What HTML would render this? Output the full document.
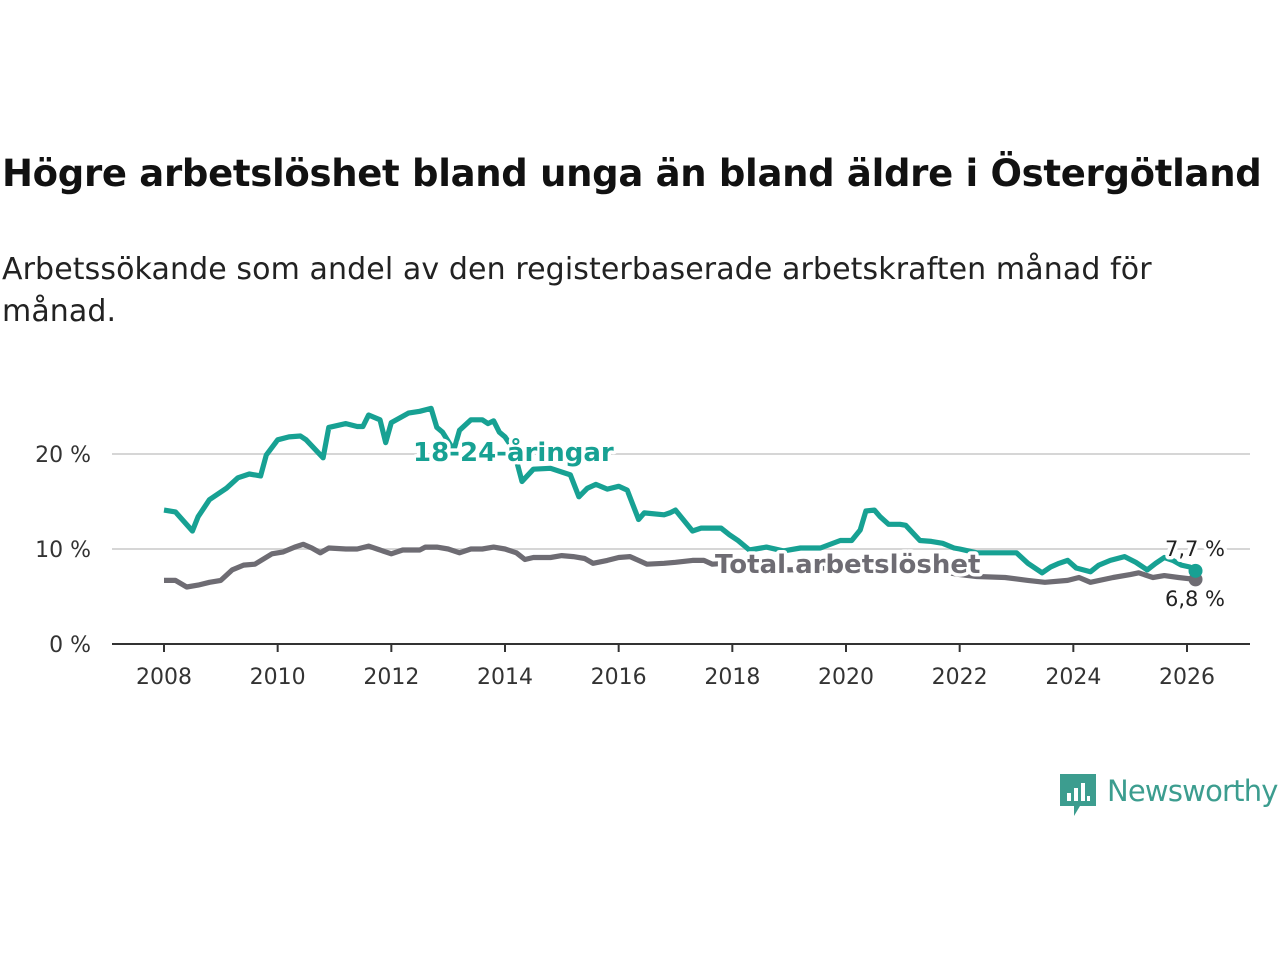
<!DOCTYPE html>
<html><head><meta charset="utf-8"><style>
body{margin:0;background:#fff;font-family:"Liberation Sans","DejaVu Sans",sans-serif;}
#wrap{position:relative;width:1280px;height:960px;overflow:hidden;}
h1{position:absolute;left:2px;top:152px;margin:0;font-size:37px;font-weight:bold;color:#111;font-family:"DejaVu Sans",sans-serif;letter-spacing:-0.3px;}
.sub{position:absolute;left:2px;top:249px;margin:0;font-size:30px;color:#222;line-height:42px;width:1270px;font-family:"DejaVu Sans",sans-serif;letter-spacing:0.1px}
svg text{font-family:"DejaVu Sans",sans-serif;}
</style></head><body><div id="wrap">
<h1>Högre arbetslöshet bland unga än bland äldre i Östergötland</h1>
<p class="sub">Arbetssökande som andel av den registerbaserade arbetskraften månad för<br>månad.</p>
<svg id="chart" width="1280" height="960" style="position:absolute;left:0;top:0"></svg>
<div style="position:absolute;left:1060px;top:774px;">
<svg width="36" height="44"><path d="M0 0H36V32H20L14 42V32H0Z" fill="#3c9d8f"/><rect x="7" y="19" width="4" height="8" fill="#fff"/><rect x="14" y="14" width="4" height="13" fill="#fff"/><rect x="21" y="9" width="4" height="18" fill="#fff"/><rect x="27" y="22" width="3" height="5" fill="#fff"/></svg>
<span style="position:absolute;left:47px;top:0;font-size:29px;color:#3c9d8f;font-family:'DejaVu Sans',sans-serif;letter-spacing:-0.8px">Newsworthy</span></div>
</div>
<script>
const youthT=[2008.0,2008.2,2008.5,2008.6,2008.8,2009.1,2009.3,2009.5,2009.7,2009.8,2010.0,2010.2,2010.4,2010.5,2010.8,2010.9,2011.2,2011.4,2011.5,2011.6,2011.8,2011.9,2012.0,2012.3,2012.5,2012.7,2012.8,2012.9,2013.1,2013.2,2013.4,2013.6,2013.7,2013.8,2013.9,2014.0,2014.15,2014.3,2014.5,2014.8,2015.15,2015.3,2015.45,2015.6,2015.8,2016.0,2016.15,2016.35,2016.45,2016.8,2016.9,2017.0,2017.3,2017.45,2017.8,2017.95,2018.1,2018.3,2018.6,2018.9,2019.2,2019.55,2019.9,2020.1,2020.25,2020.35,2020.5,2020.6,2020.75,2020.95,2021.05,2021.3,2021.5,2021.7,2021.9,2022.0,2022.3,2022.6,2023.0,2023.2,2023.45,2023.6,2023.75,2023.9,2024.05,2024.3,2024.45,2024.65,2024.9,2025.1,2025.3,2025.45,2025.6,2025.75,2025.9,2026.05,2026.15];
const youthV=[14.1,13.9,11.9,13.4,15.2,16.4,17.5,17.9,17.7,19.9,21.5,21.8,21.9,21.5,19.6,22.8,23.2,22.9,22.9,24.1,23.6,21.2,23.3,24.3,24.5,24.8,22.8,22.3,20.4,22.5,23.6,23.6,23.2,23.5,22.3,21.8,20.5,17.1,18.4,18.5,17.8,15.5,16.4,16.8,16.3,16.6,16.2,13.1,13.8,13.6,13.8,14.1,11.9,12.2,12.2,11.5,10.9,9.9,10.2,9.8,10.1,10.1,10.9,10.9,12.0,14.0,14.1,13.4,12.6,12.6,12.5,10.9,10.8,10.6,10.1,10.0,9.6,9.6,9.6,8.5,7.5,8.1,8.5,8.8,8.0,7.6,8.3,8.8,9.2,8.6,7.8,8.5,9.1,8.8,8.3,8.1,7.7];
const totalT=[2008.0,2008.2,2008.4,2008.6,2008.8,2009.0,2009.2,2009.4,2009.6,2009.9,2010.1,2010.3,2010.45,2010.6,2010.75,2010.9,2011.2,2011.4,2011.6,2011.75,2012.0,2012.2,2012.5,2012.6,2012.8,2013.0,2013.2,2013.4,2013.6,2013.8,2014.0,2014.2,2014.35,2014.5,2014.8,2015.0,2015.2,2015.4,2015.55,2015.8,2016.0,2016.2,2016.5,2016.8,2017.0,2017.3,2017.5,2017.65,2017.85,2018.0,2018.5,2019.0,2019.5,2020.0,2020.5,2021.0,2021.5,2022.0,2022.3,2022.8,2023.2,2023.5,2023.9,2024.1,2024.3,2024.7,2025.0,2025.15,2025.4,2025.6,2025.85,2026.15];
const totalV=[6.7,6.7,6.0,6.2,6.5,6.7,7.8,8.3,8.4,9.5,9.7,10.2,10.5,10.1,9.6,10.1,10.0,10.0,10.3,10.0,9.5,9.9,9.9,10.2,10.2,10.0,9.6,10.0,10.0,10.2,10.0,9.6,8.9,9.1,9.1,9.3,9.2,9.0,8.5,8.8,9.1,9.2,8.4,8.5,8.6,8.8,8.8,8.4,8.5,8.4,8.0,7.8,7.9,8.4,8.8,8.3,7.8,7.3,7.1,7.0,6.7,6.5,6.7,7.0,6.5,7.0,7.3,7.5,7.0,7.2,7.0,6.8];
const yTicks=[0,10,20];
const xTicks=[2008,2010,2012,2014,2016,2018,2020,2022,2024,2026];
const X=t=>164+(t-2008)*(1187-164)/18;
const Y=v=>644-v*9.5;
const svg=document.getElementById('chart');const NS='http://www.w3.org/2000/svg';
function mk(tag,at,par){const e=document.createElementNS(NS,tag);for(const k in at)e.setAttribute(k,at[k]);(par||svg).appendChild(e);return e;}
yTicks.forEach(v=>{
 if(v>0){const g=mk('line',{x1:112,x2:1250,y1:Y(v),y2:Y(v),stroke:'#d6d6d6','stroke-width':2});
 
 }
 const t=mk('text',{x:91,y:Y(v)+8,'text-anchor':'end','font-size':22,fill:'#333'});t.textContent=v+' %';
 
 
});
const ax=mk('line',{x1:112,x2:1250,y1:644,y2:644,stroke:'#333','stroke-width':2});


xTicks.forEach(yr=>{
 const l=mk('line',{x1:X(yr),x2:X(yr),y1:644,y2:652,stroke:'#333','stroke-width':2});
 
 
 const t=mk('text',{x:X(yr),y:684,'text-anchor':'middle','font-size':22,fill:'#333'});t.textContent=yr;
 
 
});
function line(T,V,col,name){const d=T.map((t,i)=>(i?'L':'M')+X(t).toFixed(1)+' '+Y(V[i]).toFixed(1)).join('');
 const p=mk('path',{d:d,fill:'none',stroke:col,'stroke-width':5.2,'stroke-linejoin':'round'});
 
 
 const c=mk('circle',{cx:X(T[T.length-1]),cy:Y(V[V.length-1]),r:7,fill:col});
 
 }
line(totalT,totalV,'#6e6c73','total-line');
line(youthT,youthV,'#17a193','youth-line');
function lab(x,y,txt,col,name,w,anchor,size){const t=mk('text',{x:x,y:y,'font-size':size,'font-weight':w,fill:col,'text-anchor':anchor||'start',stroke:'#fff','stroke-width':7,'paint-order':'stroke','stroke-linejoin':'round'});t.textContent=txt;
 
 }
lab(413,461,'18-24-åringar','#17a193','youth-label','bold','start',26);
lab(715,573,'Total arbetslöshet','#6e6c73','total-label','bold','start',26);
lab(1225,556,'7,7 %','#222','youth-end-value','normal','end',21);
lab(1225,606,'6,8 %','#222','total-end-value','normal','end',21);
</script></body></html>
